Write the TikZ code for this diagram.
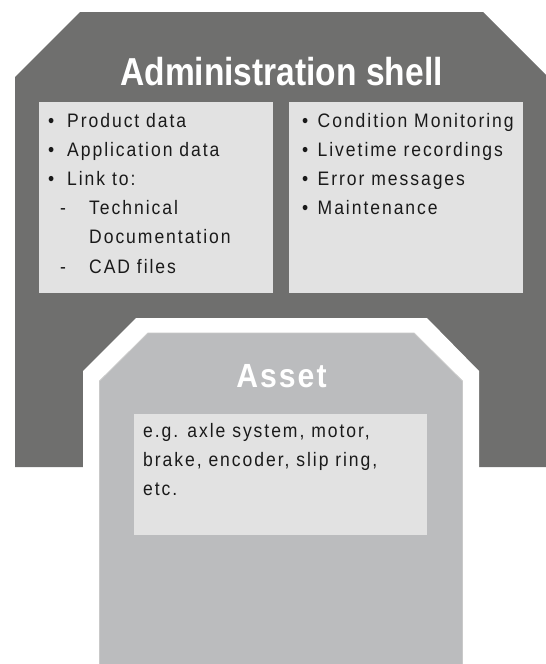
\documentclass[tikz,border=0pt]{standalone}
\usepackage{fontspec}
\setmainfont{Liberation Sans}
\newfontfamily\bodyfont{Liberation Sans}[FakeStretch=0.9,LetterSpace=10]
\newfontfamily\headfont{Liberation Sans}[FakeStretch=0.86]
\newfontfamily\assetfont{Liberation Sans}[FakeStretch=0.9,LetterSpace=6]
\definecolor{shellgray}{HTML}{6F6F6E}
\definecolor{boxfill}{HTML}{E2E2E2}
\definecolor{assetfill}{HTML}{BBBCBE}
\definecolor{assetedge}{HTML}{C9C9C9}
\definecolor{txt}{HTML}{1A1A1A}
\newcommand{\bul}{\makebox[19pt][l]{•}}
\newcommand{\bulr}{\makebox[15.5pt][l]{•}}
\newcommand{\dsh}{\makebox[29pt][l]{-}}
\tikzset{
  listbox/.style={fill=boxfill, draw=none, inner sep=0pt, outer sep=0pt, anchor=north west, minimum height=191pt, minimum width=234pt},
  item/.style={anchor=base west, inner sep=0pt, text=txt, font=\bodyfont\fontsize{19.5}{23}\selectfont},
  headline/.style={anchor=base, inner sep=0pt, text=white, font=\headfont\bfseries\fontsize{39}{44}\selectfont},
  assethead/.style={anchor=base, inner sep=0pt, text=white, font=\assetfont\bfseries\fontsize{33.5}{38}\selectfont}
}
\begin{document}
\begin{tikzpicture}[x=1pt,y=-1pt]
\useasboundingbox (0,0) rectangle (546,664);
\clip (0,0) rectangle (546,664);
% shell
\fill[shellgray] (15,467) -- (15,77) -- (80,12) -- (483,12) -- (548,77) -- (548,467) -- cycle;
% white border of asset
\fill[white] (83,670) -- (83,371) -- (136,318) -- (427,318) -- (479,371) -- (479,670) -- cycle;
% asset
\filldraw[fill=assetfill, draw=assetedge, line width=0.8pt] (99.5,670) -- (99.5,381) -- (148,333) -- (414,333) -- (462.5,381) -- (462.5,670) -- cycle;
% boxes
\node[listbox] (box1) at (39,102) {};
\node[listbox] (box2) at (289,102) {};
\node[listbox, minimum width=293pt, minimum height=121pt] (box3) at (134,414) {};
% titles
\node[headline] (title) at (281.5,85) {Administration shell};
\node[assethead] (asset) at (281.5,387) {Asset};
% left list
\node[item] (p1) at (48,127) {\bul Product data};
\node[item] (p2) at (48,156.2) {\bul Application data};
\node[item] (p3) at (48,185.4) {\bul Link to:};
\node[item] (p4) at (60,214.6) {\dsh Technical};
\node[item] (p5) at (89,243.8) {Documentation};
\node[item] (p6) at (60,273) {\dsh CAD files};
% right list
\node[item] (q1) at (302,127) {\bulr Condition Monitoring};
\node[item] (q2) at (302,156.2) {\bulr Livetime recordings};
\node[item] (q3) at (302,185.4) {\bulr Error messages};
\node[item] (q4) at (302,214.6) {\bulr Maintenance};
% asset text
\node[item] (a1) at (143,437) {e.g. axle system, motor,};
\node[item] (a2) at (143,466) {brake, encoder, slip ring,};
\node[item] (a3) at (143,495) {etc.};
\end{tikzpicture}
\end{document}
